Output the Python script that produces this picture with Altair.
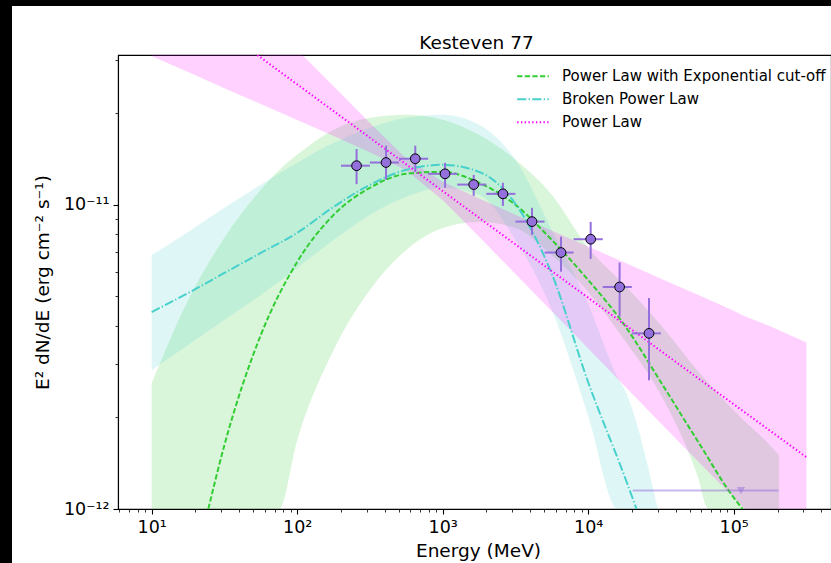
import altair as alt
import pandas as pd

# ---------------- data ----------------
# flux points
pt_E = [256, 408, 648, 1038, 1634, 2594, 4108, 6501, 10400, 16440, 26180]
pt_E_lo = [200, 316, 501, 794, 1259, 1995, 3162, 5012, 7943, 12589, 19953]
pt_E_hi = [316, 501, 794, 1259, 1995, 3162, 5012, 7943, 12589, 19953, 31623]
pt_F = [1.345e-11, 1.378e-11, 1.418e-11, 1.265e-11, 1.166e-11, 1.087e-11,
        8.81e-12, 6.97e-12, 7.71e-12, 5.37e-12, 3.78e-12]
pt_F_hi = [1.526e-11, 1.565e-11, 1.565e-11, 1.375e-11, 1.255e-11, 1.182e-11,
           9.78e-12, 7.86e-12, 8.79e-12, 6.46e-12, 4.94e-12]
pt_F_lo = [1.170e-11, 1.209e-11, 1.284e-11, 1.138e-11, 1.071e-11, 9.92e-12,
           7.97e-12, 6.03e-12, 6.64e-12, 4.29e-12, 2.65e-12]

# upper limit
ul_E = [112200]
ul_E_lo = [20200]
ul_E_hi = [202900]
ul_F = [1.15e-12]

# Power Law with Exponential cut-off
plec_E = [24.5, 31.6, 56.2, 100, 178, 316, 562, 1000, 1778, 3162, 5623,
          10000, 17783, 31623, 56234, 100000, 115000]
plec_F = [1.0e-12, 1.62e-12, 3.73e-12, 6.49e-12, 9.27e-12, 1.138e-11, 1.265e-11,
          1.284e-11, 1.182e-11, 1.0e-11, 7.67e-12, 5.66e-12, 4.02e-12, 2.61e-12,
          1.68e-12, 1.09e-12, 1.0e-12]
plec_band_E = [10, 17.8, 31.6, 56.2, 75, 100, 178, 316, 562, 1000, 1778, 3162,
               5623, 10000, 17783, 31623, 56234, 67000, 100000, 177828, 205000]
plec_band_lo = [1e-12, 1e-12, 1e-12, 1e-12, 1e-12, 1.68e-12, 3.33e-12, 5.25e-12,
                7.11e-12, 8.40e-12, 8.79e-12, 8.40e-12, 6.84e-12, 5.17e-12, 3.59e-12,
                2.37e-12, 1.29e-12, 1e-12, 1e-12, 1e-12, 1e-12]
plec_band_hi = [2.59e-12, 4.86e-12, 7.79e-12, 1.121e-11, 1.30e-11, 1.461e-11, 1.766e-11,
                1.935e-11, 1.98e-11, 1.906e-11, 1.70e-11, 1.407e-11, 1.079e-11,
                7.22e-12, 5.45e-12, 4.02e-12, 2.86e-12, 2.60e-12, 2.11e-12, 1.62e-12,
                1.50e-12]

# Broken Power Law
bpl_E = [10, 17.8, 31.6, 56.2, 100, 178, 316, 562, 1000, 1778, 3162, 5623,
         10000, 17783, 21500]
bpl_F = [4.44e-12, 5.13e-12, 5.97e-12, 6.95e-12, 8.09e-12, 9.85e-12, 1.164e-11,
         1.304e-11, 1.354e-11, 1.284e-11, 1.008e-11, 5.93e-12, 2.61e-12, 1.28e-12, 1.0e-12]
bpl_band_E = [10, 17.8, 31.6, 56.2, 100, 178, 316, 562, 1000, 1778, 3162, 5623,
              10000, 16000, 17783, 30200]
bpl_band_lo = [2.86e-12, 3.46e-12, 4.18e-12, 5.05e-12, 6.20e-12, 7.67e-12, 9.27e-12,
               1.063e-11, 1.138e-11, 1.079e-11, 7.67e-12, 4.51e-12, 2.02e-12, 1e-12,
               1e-12, 1e-12]
bpl_band_hi = [6.84e-12, 8.15e-12, 9.78e-12, 1.164e-11, 1.375e-11, 1.60e-11, 1.794e-11,
               1.935e-11, 1.98e-11, 1.835e-11, 1.407e-11, 8.27e-12, 4.72e-12, 2.7e-12,
               2.47e-12, 1e-12]

# Power Law
pl_E = [10, 100, 1000, 10000, 100000, 316228]
pl_F = [5.60e-11, 2.49e-11, 1.11e-11, 4.95e-12, 2.21e-12, 1.48e-12]
pl_band_E = [10, 17.8, 31.6, 56.2, 100, 108.6, 178, 316, 562, 1000, 1778, 3162,
             5623, 10000, 17783, 31623, 56234, 100000, 119000, 177828, 316228]
pl_band_lo = [3.08e-11, 2.733e-11, 2.42e-11, 2.145e-11, 1.901e-11, 1.868e-11, 1.684e-11,
              1.488e-11, 1.299e-11, 1.036e-11, 7.85e-12, 5.93e-12, 4.47e-12, 3.37e-12,
              2.54e-12, 1.91e-12, 1.44e-12, 1.09e-12, 1e-12, 1e-12, 1e-12]
pl_band_hi = [3.11e-11, 3.11e-11, 3.11e-11, 3.11e-11, 3.11e-11, 3.11e-11, 2.457e-11,
              1.857e-11, 1.421e-11, 1.191e-11, 1.049e-11, 9.28e-12, 8.22e-12, 7.29e-12,
              6.46e-12, 5.72e-12, 5.07e-12, 4.49e-12, 4.3e-12, 3.99e-12, 3.53e-12]

models = ["Power Law with Exponential cut-off", "Broken Power Law", "Power Law"]
model_colors = ["#32CD32", "#48D1CC", "#FF00FF"]
model_dashes = [[5.3, 2.3], [9.1, 2.3, 1.4, 2.3], [1.4, 2.35]]

x_ticks = [6, 7, 8, 9, 10, 20, 30, 40, 50, 60, 70, 80, 90, 100, 200, 300, 400, 500, 600,
           700, 800, 900, 1000, 2000, 3000, 4000, 5000, 6000, 7000, 8000, 9000, 10000,
           20000, 30000, 40000, 50000, 60000, 70000, 80000, 90000, 100000, 200000,
           300000, 400000]
y_ticks = [1e-12, 2e-12, 3e-12, 4e-12, 5e-12, 6e-12, 7e-12, 8e-12, 9e-12, 1e-11,
           2e-11, 3e-11]

# ---------------- tables ----------------
lines_df = pd.concat([
    pd.DataFrame({"E": plec_E, "F": plec_F, "model": models[0]}),
    pd.DataFrame({"E": bpl_E, "F": bpl_F, "model": models[1]}),
    pd.DataFrame({"E": pl_E, "F": pl_F, "model": models[2]}),
])
bands = [
    pd.DataFrame({"E": plec_band_E, "lo": plec_band_lo, "hi": plec_band_hi}),
    pd.DataFrame({"E": bpl_band_E, "lo": bpl_band_lo, "hi": bpl_band_hi}),
    pd.DataFrame({"E": pl_band_E, "lo": pl_band_lo, "hi": pl_band_hi}),
]
band_interp = ["monotone", "monotone", "linear"]
pts_df = pd.DataFrame({"E": pt_E, "Elo": pt_E_lo, "Ehi": pt_E_hi,
                       "F": pt_F, "Flo": pt_F_lo, "Fhi": pt_F_hi})
ul_df = pd.DataFrame({"E": ul_E, "Elo": ul_E_lo, "Ehi": ul_E_hi, "F": ul_F})

# ---------------- scales / axes ----------------
W, H = 713, 454
xs = alt.Scale(type="log", domain=[5.87, 466300], nice=False)
ys = alt.Scale(type="log", domain=[1e-12, 3.11e-11], nice=False)

is_major = "abs(log(datum.value)/LN10 - round(log(datum.value)/LN10)) < 0.001"
sup = "'⁰¹²³⁴⁵⁶⁷⁸⁹'"
x_label = (f"{is_major} ? '10' + substring({sup}, round(log(datum.value)/LN10), "
           f"round(log(datum.value)/LN10) + 1) : ''")
y_label = (f"{is_major} ? (round(log(datum.value)/LN10) == -11 ? '10⁻¹¹' : "
           f"(round(log(datum.value)/LN10) == -12 ? '10⁻¹²' : '')) : ''")

common_axis = dict(
    grid=False, domainColor="black", domainWidth=1.1, tickColor="black",
    tickSize={"condition": {"test": is_major, "value": 5}, "value": 3},
    tickWidth={"condition": {"test": is_major, "value": 1.1}, "value": 0.8},
    labelFont="DejaVu Sans", labelFontSize=17.5, labelColor="black",
    titleFont="DejaVu Sans", titleFontSize=18.5, titleFontWeight="normal",
    titleColor="black", labelPadding=4, zindex=1,
)
x_axis = alt.Axis(values=x_ticks, labelExpr=x_label, title="Energy (MeV)",
                  titleX=360, titleY=47, titleAlign="center",
                  titleBaseline="alphabetic", labelFlush=False, labelOverlap=False,
                  **common_axis)
y_axis = alt.Axis(values=y_ticks, labelExpr=y_label,
                  title="E² dN/dE (erg cm⁻² s⁻¹)",
                  titleX=-76, titleY=H / 2, titleAlign="center", titleAngle=-90,
                  titleBaseline="middle", labelFlush=False, labelOverlap=False,
                  **common_axis)


def X(field):
    return alt.X(f"{field}:Q", scale=xs, axis=x_axis)


def Y(field):
    return alt.Y(f"{field}:Q", scale=ys, axis=y_axis)


layers = []
for df, col, ip in zip(bands, model_colors, band_interp):
    layers.append(
        alt.Chart(df).mark_area(color=col, opacity=0.18, clip=True,
                                interpolate=ip).encode(
            x=X("E"), y=Y("lo"), y2="hi")
    )

leg = alt.Legend(title=None, orient="none", legendX=398, legendY=10,
                 symbolType="stroke", symbolSize=1000, symbolStrokeWidth=2,
                 labelFont="DejaVu Sans", labelFontSize=15, labelColor="black",
                 labelOffset=12, clipHeight=22.5, rowPadding=0, padding=0,
                 symbolOpacity=1, labelLimit=400)
layers.append(
    alt.Chart(lines_df).mark_line(strokeWidth=2, clip=True, interpolate="monotone").encode(
        x=X("E"), y=Y("F"),
        color=alt.Color("model:N", scale=alt.Scale(domain=models, range=model_colors),
                        legend=leg),
        strokeDash=alt.StrokeDash("model:N",
                                  scale=alt.Scale(domain=models, range=model_dashes),
                                  legend=leg),
    )
)

purple = "#9370DB"
layers.append(alt.Chart(pts_df).mark_rule(color=purple, strokeWidth=2).encode(
    x=X("Elo"), x2="Ehi", y=Y("F")))
layers.append(alt.Chart(pts_df).mark_rule(color=purple, strokeWidth=2).encode(
    x=X("E"), y=Y("Flo"), y2="Fhi"))
layers.append(alt.Chart(pts_df).mark_circle(
    color=purple, size=95, opacity=1, stroke="black", strokeWidth=1).encode(
    x=X("E"), y=Y("F")))
layers.append(alt.Chart(ul_df).mark_rule(color=purple, strokeWidth=2, opacity=0.5).encode(
    x=X("Elo"), x2="Ehi", y=Y("F")))
layers.append(alt.Chart(ul_df).mark_point(
    shape="triangle-down", filled=True, color=purple, size=70, opacity=0.5).encode(
    x=X("E"), y=Y("F")))

# black frame strips at the top-left of the picture
frame = pd.DataFrame({"k": [0]})
layers.append(alt.Chart(frame).mark_rect(color="black", clip=False).encode(
    x=alt.value(-118), x2=alt.value(-106), y=alt.value(-55), y2=alt.value(H + 60)))
layers.append(alt.Chart(frame).mark_rect(color="black", clip=False).encode(
    x=alt.value(-118), x2=alt.value(W + 10), y=alt.value(-55), y2=alt.value(-49)))

chart = alt.layer(*layers).properties(
    width=W, height=H,
    title=alt.TitleParams("Kesteven 77", font="DejaVu Sans", fontSize=18.5,
                          fontWeight="normal", color="black", anchor="middle",
                          baseline="alphabetic", offset=6, dx=2, dy=73, zindex=2),
    padding={"left": 118, "top": 55, "right": 0, "bottom": 54},
    autosize=alt.AutoSizeParams(type="none"),
).configure(
    font="DejaVu Sans", background="white"
).configure_view(stroke="black", strokeWidth=1.1)

chart.save("out.html", embed_options={"renderer": "svg", "actions": False})
